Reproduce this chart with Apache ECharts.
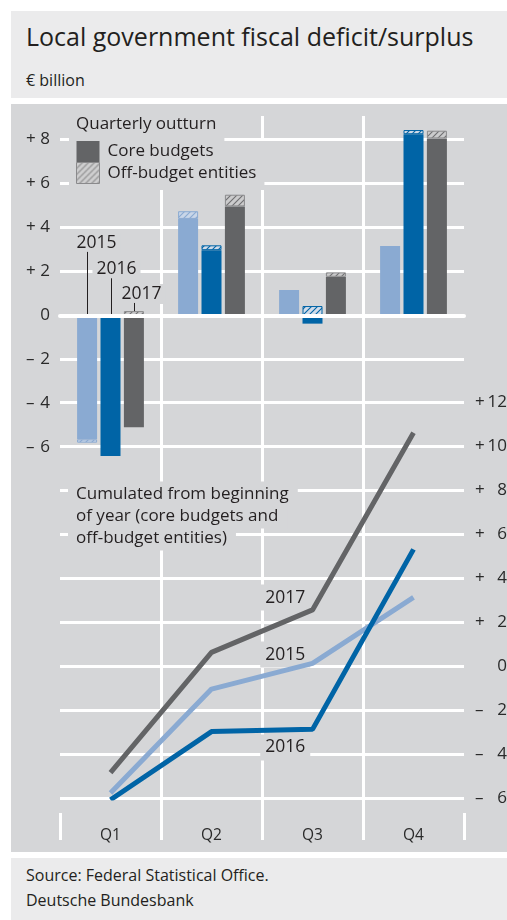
<!DOCTYPE html>
<html>
<head>
<meta charset="utf-8">
<title>Local government fiscal deficit/surplus</title>
<script src="https://cdn.jsdelivr.net/npm/echarts@6/dist/echarts.min.js"></script>
<style>
  html, body { margin: 0; padding: 0; background: #fff; }
  body { width: 507px; height: 920px; position: relative; overflow: hidden;
         font-family: "Open Sans", "DejaVu Sans", sans-serif; color: #231f20; }
  #head { position: absolute; left: 11px; top: 11px; width: 496px; height: 87px; background: #ebebec; }
  #head h1 { position: absolute; left: 15px; top: 10px; margin: 0; font-size: 25px; line-height: 30px; font-weight: 400; white-space: nowrap; }
  #head .unit { position: absolute; left: 15px; top: 59px; font-size: 16px; line-height: 20px; }
  #panel { position: absolute; left: 11px; top: 104px; width: 496px; height: 748px; background: #d5d6d8; }
  #foot { position: absolute; left: 11px; top: 858px; width: 496px; height: 62px; background: #ebebec; }
  #foot p { position: absolute; left: 15px; top: 5px; margin: 0; font-size: 16px; line-height: 25px; }
  #chart { position: absolute; left: 0; top: 0; width: 507px; height: 920px; }
</style>
</head>
<body>
<div id="head">
  <h1>Local government fiscal deficit/surplus</h1>
  <div class="unit">€ billion</div>
</div>
<div id="panel"></div>
<div id="foot"><p>Source: Federal Statistical Office.<br>Deutsche Bundesbank</p></div>
<div id="chart"></div>
<script>
// Quarters and years
const quarters = ['Q1', 'Q2', 'Q3', 'Q4'];
const years = ['2015', '2016', '2017'];

// Quarterly outturn, € billion: core budgets and off-budget entities
const core2015 = [-5.63, 4.39, 1.16, 3.16];
const off2015  = [-0.15, 0.35, '-', '-'];
const core2016 = [-6.39, 2.97, -0.37, 8.24];
const off2016  = ['-', 0.22, 0.43, 0.19];
const core2017 = [-5.08, 4.96, 1.76, 8.05];
const off2017  = [0.20, 0.53, 0.20, 0.35];

// Cumulated from beginning of year (core budgets and off-budget entities)
const cum2015 = [-5.77, -1.05, 0.12, 3.12];
const cum2016 = [-6.08, -2.98, -2.88, 5.30];
const cum2017 = [-4.85, 0.62, 2.55, 10.60];

// Axis ranges
const barAxis = { min: -6, max: 8, step: 2 };
const cumAxis = { min: -6, max: 12, step: 2 };

const FONT = '"Open Sans", "DejaVu Sans", sans-serif';
const INK = '#231f20';
const AXIS_INK = '#2a2a2a';
const PANEL = '#d5d6d8';
const C15 = '#8aaad2';
const C16 = '#0064a6';
const C17 = '#636466';
const TXT = 17;

// Diagonal hatch used for the off-budget entities
function hatch(bg, stripe) {
  const c = document.createElement('canvas');
  c.width = 6; c.height = 6;
  const g = c.getContext('2d');
  g.fillStyle = bg; g.fillRect(0, 0, 6, 6);
  g.strokeStyle = stripe; g.lineWidth = 1.1;
  g.beginPath();
  g.moveTo(0, 6); g.lineTo(6, 0);
  g.moveTo(-1, 1); g.lineTo(1, -1);
  g.moveTo(5, 7); g.lineTo(7, 5);
  g.stroke();
  return { image: c, repeat: 'repeat' };
}

function signLabel(v) {
  if (v === 0) return '{s|\u00a0}{d|0}';
  return '{s|' + (v > 0 ? '+' : '\u2013') + '}{d|' + Math.abs(v) + '}';
}

const chart = echarts.init(document.getElementById('chart'), null, { renderer: 'canvas', width: 507, height: 920 });

const barCommon = { type: 'bar', xAxisIndex: 0, yAxisIndex: 0, barWidth: 20, barGap: '17%', clip: false, silent: true };
const lineCommon = { type: 'line', xAxisIndex: 1, yAxisIndex: 1, symbol: 'none', silent: true, z: 3 };

// Top bar grid: one white split line per tick, the two lowest left to the lower chart's lines
const barSplitColors = ['rgba(0,0,0,0)', 'rgba(0,0,0,0)', '#fff', '#fff', '#fff', '#fff', '#fff', '#fff'];
const labelFont = { fontSize: 17, color: AXIS_INK, fontFamily: FONT };

const option = {
  animation: false,
  textStyle: { fontFamily: FONT },
  title: {
    text: 'Quarterly outturn', left: 69, top: 109, padding: [4, 8, 6, 7],
    backgroundColor: PANEL,
    textStyle: { fontSize: TXT, fontWeight: 'normal', color: INK, fontFamily: FONT, lineHeight: 22 }
  },
  legend: {
    left: 69, top: 141, orient: 'vertical', padding: [0, 8, 6, 7],
    backgroundColor: PANEL, itemWidth: 23, itemHeight: 21, itemGap: 0,
    selectedMode: false, icon: 'rect',
    textStyle: { fontSize: TXT, color: INK, fontFamily: FONT, lineHeight: 21, padding: [0, 0, 0, 3] },
    data: [
      { name: 'Core budgets', itemStyle: { color: C17, borderWidth: 0 } },
      { name: 'Off-budget entities', itemStyle: { color: hatch('#cfcfd0', '#8a8a8c'), borderColor: '#8a8a8c', borderWidth: 1 } }
    ]
  },
  grid: [
    { left: 60, top: 139.5, width: 404, height: 308, outerBoundsMode: 'none' },
    { left: 60, top: 402, width: 404, height: 396, outerBoundsMode: 'none' },
    { left: 60, top: 116, width: 404, height: 724, outerBoundsMode: 'none' }
  ],
  xAxis: [
    { gridIndex: 0, type: 'category', data: quarters, boundaryGap: true, z: 5,
      axisLine: { show: true, onZero: true, lineStyle: { color: '#fff', width: 4 } },
      axisTick: { show: false }, axisLabel: { show: false }, splitLine: { show: false } },
    { gridIndex: 1, type: 'category', data: quarters, boundaryGap: true, show: false },
    { gridIndex: 2, type: 'category', data: quarters, boundaryGap: true, position: 'bottom',
      axisLine: { show: false },
      axisTick: { show: true, inside: true, length: 27, lineStyle: { color: '#fff', width: 3 } },
      axisLabel: { show: true, margin: -12, fontSize: 15.5, color: AXIS_INK, fontFamily: FONT },
      splitLine: { show: true, showMinLine: false, showMaxLine: false, lineStyle: { color: '#fff', width: 3 } } }
  ],
  yAxis: [
    { gridIndex: 0, type: 'value', min: barAxis.min, max: barAxis.max, interval: barAxis.step,
      axisLine: { show: false }, axisTick: { show: false },
      axisLabel: Object.assign({ margin: 10, formatter: signLabel,
        rich: { s: Object.assign({ width: 14, align: 'left' }, labelFont),
                d: Object.assign({ width: 10, align: 'right' }, labelFont) } }, labelFont),
      splitLine: { show: true, lineStyle: { color: barSplitColors, width: 3 } } },
    { gridIndex: 1, type: 'value', position: 'right', min: cumAxis.min, max: cumAxis.max, interval: cumAxis.step,
      axisLine: { show: false }, axisTick: { show: false },
      axisLabel: Object.assign({ margin: 11, formatter: signLabel,
        rich: { s: Object.assign({ width: 12, align: 'left' }, labelFont),
                d: Object.assign({ width: 20, align: 'right' }, labelFont) } }, labelFont),
      splitLine: { show: true, lineStyle: { color: '#fff', width: 3 } } },
    { gridIndex: 2, type: 'value', show: false }
  ],
  series: [
    Object.assign({ name: 'Core budgets', stack: '2015', data: core2015, itemStyle: { color: C15 } }, barCommon),
    Object.assign({ name: 'Off-budget entities', stack: '2015', data: off2015,
      itemStyle: { color: hatch('#c9d6e8', '#8aaad2'), borderColor: C15, borderWidth: 1 } }, barCommon),
    Object.assign({ name: 'Core budgets', stack: '2016', data: core2016, itemStyle: { color: C16 } }, barCommon),
    Object.assign({ name: 'Off-budget entities', stack: '2016', data: off2016,
      itemStyle: { color: hatch('#d2dce9', '#0064a6'), borderColor: C16, borderWidth: 1 } }, barCommon),
    Object.assign({ name: 'Core budgets', stack: '2017', data: core2017, itemStyle: { color: C17 } }, barCommon),
    Object.assign({ name: 'Off-budget entities', stack: '2017', data: off2017,
      itemStyle: { color: hatch('#cbcbcc', '#6f6f71'), borderColor: '#8a8a8c', borderWidth: 1 } }, barCommon),
    Object.assign({ name: 'cum2015', data: cum2015, lineStyle: { color: C15, width: 5 } }, lineCommon),
    Object.assign({ name: 'cum2017', data: cum2017, lineStyle: { color: C17, width: 5 } }, lineCommon),
    Object.assign({ name: 'cum2016', data: cum2016, lineStyle: { color: C16, width: 5 } }, lineCommon)
  ]
};
chart.setOption(option);

// Annotations placed through the axes once the layout exists
const model = chart.getModel();
const yBar = v => chart.convertToPixel({ yAxisIndex: 0 }, v);
const yCum = v => chart.convertToPixel({ yAxisIndex: 1 }, v);
const xCum = q => chart.convertToPixel({ xAxisIndex: 1 }, q);

function barCentre(seriesIndex, i) {
  const l = model.getSeriesByIndex(seriesIndex).getData().getItemLayout(i);
  return l.x + l.width / 2;
}
function posPart(v) { return (typeof v === 'number' && v > 0) ? v : 0; }

const textBase = { fontSize: 17.5, fontFamily: FONT, fill: INK, backgroundColor: PANEL };
const graphics = [];

// Year labels with leaders to the Q1 bars
const yearLabelValue = [3.3, 2.1, 0.98];
const yearLabelShift = [9, 5, 7];
const coreSets = [core2015, core2016, core2017];
const offSets = [off2015, off2016, off2017];
for (let k = 0; k < 3; k++) {
  const cx = Math.round(barCentre(k * 2, 0)) + 0.5;
  const ly = yBar(yearLabelValue[k]);
  const top = posPart(coreSets[k][0]) + posPart(offSets[k][0]);
  graphics.push({ type: 'line', z: 4, silent: true,
    shape: { x1: cx, y1: ly + 9, x2: cx, y2: yBar(top) },
    style: { stroke: INK, lineWidth: 1 } });
  graphics.push({ type: 'text', z: 3, silent: true,
    style: Object.assign({ text: years[k], x: cx + yearLabelShift[k], y: ly, align: 'center', verticalAlign: 'middle', padding: [1, 4] }, textBase) });
}

// Year labels for the cumulated lines
const lineLabelValue = { '2017': 3.11, '2015': 0.52, '2016': -3.7 };
const lx = xCum('Q2') + 0.73 * (xCum('Q3') - xCum('Q2'));
Object.keys(lineLabelValue).forEach(yr => {
  graphics.push({ type: 'text', z: 3, silent: true,
    style: Object.assign({ text: yr, x: lx, y: yCum(lineLabelValue[yr]), align: 'center', verticalAlign: 'middle', padding: [3, 5, 5, 5] }, textBase) });
});

// Heading of the lower chart
const cumTitle = ['Cumulated from beginning', 'of year (core budgets and', 'off-budget entities)'];
cumTitle.forEach((t, i) => {
  graphics.push({ type: 'text', z: 3, silent: true,
    style: Object.assign({ text: t, x: 68, y: 494 + i * 22, align: 'left', verticalAlign: 'middle', padding: [3, 9, 5, 8] }, textBase, { fontSize: TXT }) });
});

chart.setOption({ graphic: graphics });
</script>
</body>
</html>
